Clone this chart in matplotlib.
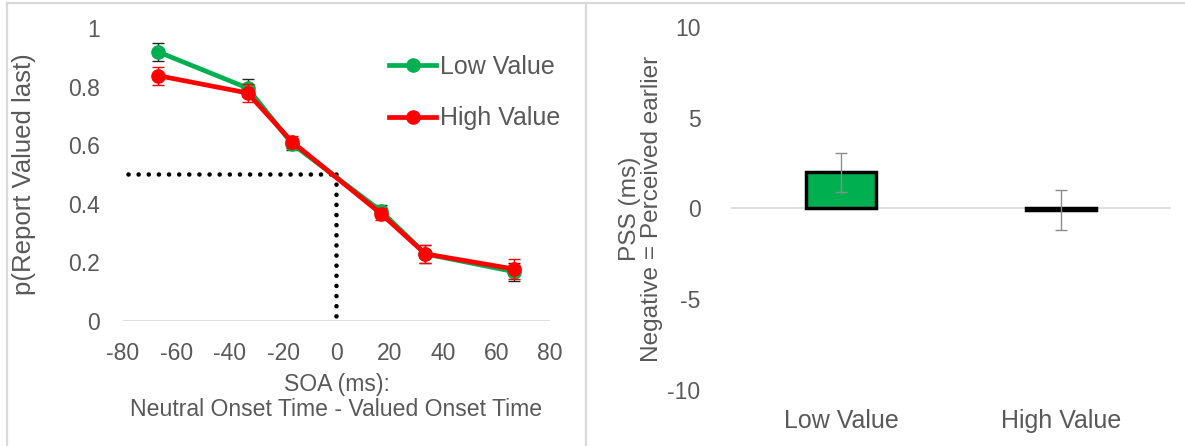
import matplotlib
matplotlib.use("Agg")
import matplotlib.pyplot as plt
from matplotlib.lines import Line2D

plt.rcParams['font.family'] = ['Liberation Sans', 'DejaVu Sans']
plt.rcParams['axes.unicode_minus'] = False

TEXT = '#595959'
GREEN = '#00B050'
RED = '#FF0000'
GRID = '#D9D9D9'

# psychometric curves: SOA in ms (one frame = 16.7 ms)
soa = [-66.7, -33.3, -16.7, 16.7, 33.3, 66.7]
low_p = [0.918, 0.795, 0.605, 0.375, 0.229, 0.168]
low_err = [0.03, 0.03, 0.02, 0.02, 0.03, 0.03]
high_p = [0.837, 0.778, 0.612, 0.366, 0.229, 0.177]
high_err = [0.03, 0.03, 0.02, 0.02, 0.03, 0.035]

# point of subjective simultaneity per condition
conditions = ['Low Value', 'High Value']
pss = [2.0, -0.07]
pss_err = [1.08, 1.1]

fig = plt.figure(figsize=(11.85, 4.46), dpi=100)

# ---- left panel
ax1 = fig.add_axes([0.1038, 0.2803, 0.3603, 0.657])
ax1.axhline(0, color=GRID, lw=1.2, zorder=0)
dots = dict(color='black', lw=3.3, linestyle=(0, (0.01, 2.2)),
            dash_capstyle='round', zorder=1)
ax1.plot([-78, 0], [0.5, 0.5], **dots)
ax1.plot([0, 0], [0.5, 0], **dots)

ax1.errorbar(soa, low_p, yerr=low_err, fmt='none', ecolor='#262626',
             elinewidth=1.0, capsize=4, capthick=1.0, zorder=2)
ax1.plot(soa, low_p, color=GREEN, lw=3.4, marker='o', ms=9.5,
         label='Low Value', zorder=3)
ax1.errorbar(soa, high_p, yerr=high_err, fmt='none', ecolor=RED,
             elinewidth=1.0, capsize=4, capthick=1.0, zorder=4)
ax1.plot(soa, high_p, color=RED, lw=3.4, marker='o', ms=9.5,
         label='High Value', zorder=5)

ax1.set_xlim(-80, 80)
ax1.set_ylim(0, 1)
ax1.set_xticks(range(-80, 81, 20))
ax1.set_yticks([0, 0.2, 0.4, 0.6, 0.8, 1.0])
ax1.set_yticklabels(['0', '0.2', '0.4', '0.6', '0.8', '1'])
ax1.tick_params(length=0, labelsize=16.5, labelcolor=TEXT)
ax1.tick_params(axis='y', pad=16.5)
ax1.tick_params(axis='x', pad=15)
for s in ax1.spines.values():
    s.set_visible(False)
ax1.set_xlabel('SOA (ms):\nNeutral Onset Time - Valued Onset Time',
               fontsize=16.6, color=TEXT, labelpad=6, linespacing=1.13)
ax1.set_ylabel('p(Report Valued last)', fontsize=18.5, color=TEXT, labelpad=23)
ax1.legend(loc='upper left', bbox_to_anchor=(0.57, 0.985), frameon=False,
           fontsize=18, labelcolor=TEXT, labelspacing=1.1, handlelength=1.9,
           handletextpad=0.15)

# ---- right panel
ax2 = fig.add_axes([0.6169, 0.1256, 0.3713, 0.8139])
ax2.axhline(0, color=GRID, lw=1.2, zorder=0)
ax2.bar(range(len(conditions)), pss, width=0.32,
        color=[GREEN, 'white'], edgecolor='black', linewidth=2.5, zorder=2)
ax2.errorbar(range(len(conditions)), pss, yerr=pss_err, fmt='none',
             ecolor='#8C8C8C', elinewidth=1.0, capsize=4, capthick=1.0, zorder=3)
ax2.set_xlim(-0.5, 1.5)
ax2.set_ylim(-10, 10)
ax2.set_yticks([-10, -5, 0, 5, 10])
ax2.set_xticks(range(len(conditions)))
ax2.set_xticklabels(conditions)
ax2.tick_params(length=0, labelsize=16.5, labelcolor=TEXT)
ax2.tick_params(axis='y', pad=22)
ax2.tick_params(axis='x', pad=14, labelsize=18)
for s in ax2.spines.values():
    s.set_visible(False)
ax2.set_ylabel('PSS (ms)\nNegative = Perceived earlier', fontsize=17.6,
               color=TEXT, labelpad=3, linespacing=1.0)

# panel frames
for xs, ys in [([7 / 1185, 7 / 1185], [0, 1 - 3 / 446]),
               ([7 / 1185, 1], [1 - 3 / 446, 1 - 3 / 446]),
               ([585.5 / 1185, 585.5 / 1185], [0, 1 - 3 / 446])]:
    fig.add_artist(Line2D(xs, ys, color=GRID, lw=1.6))

fig.savefig('out.png', dpi=100)
